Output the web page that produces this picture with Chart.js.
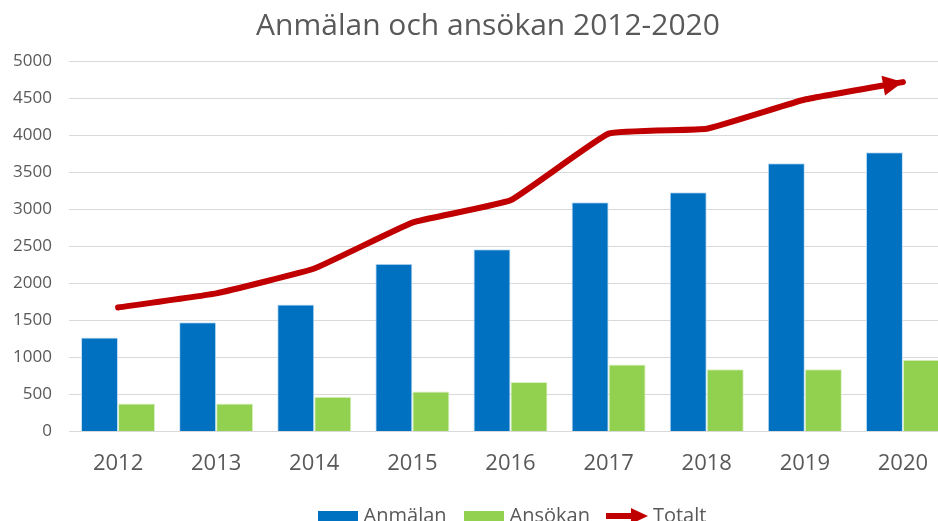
<!DOCTYPE html>
<html>
<head>
<meta charset="utf-8">
<script src="https://cdn.jsdelivr.net/npm/chart.js@4.4.1/dist/chart.umd.min.js"></script>
<style>
  html, body { margin: 0; padding: 0; overflow: hidden; background: #fff; }
  #wrap { position: absolute; left: 0; top: 0; width: 976px; height: 547px; }
</style>
</head>
<body>
<div id="wrap"><canvas id="chart" width="976" height="547"></canvas></div>
<script>
const years = ['2012', '2013', '2014', '2015', '2016', '2017', '2018', '2019', '2020'];
const anmalan = [1270, 1475, 1715, 2265, 2460, 3095, 3230, 3620, 3770];
const ansokan = [380, 380, 470, 540, 670, 905, 840, 840, 970];
const totalt = [1675, 1865, 2200, 2820, 3120, 4020, 4085, 4480, 4715];
const yTicks = [0, 500, 1000, 1500, 2000, 2500, 3000, 3500, 4000, 4500, 5000];

const BLUE = '#0070C0';
const GREEN = '#92D050';
const RED = '#C00000';
const GREY = '#595959';
const FONT = "'Open Sans', 'DejaVu Sans', sans-serif";

function boxIcon(color) {
    const c = document.createElement('canvas');
    c.width = 40; c.height = 11;
    const g = c.getContext('2d');
    g.fillStyle = color;
    g.fillRect(0, 0, 40, 11);
    return c;
}
function arrowIcon() {
    const c = document.createElement('canvas');
    c.width = 42; c.height = 16;
    const g = c.getContext('2d');
    g.strokeStyle = RED; g.fillStyle = RED; g.lineWidth = 6;
    g.beginPath(); g.moveTo(0, 8); g.lineTo(28, 8); g.stroke();
    g.beginPath(); g.moveTo(42, 8); g.lineTo(25, 0); g.lineTo(25, 16); g.closePath(); g.fill();
    return c;
}

// arrow head at the end of the Totalt line
const arrowHead = {
    id: 'arrowHead',
    afterDatasetsDraw(chart) {
        const pts = chart.getDatasetMeta(2).data;
        const last = pts[pts.length - 1];
        const prev = pts[pts.length - 2];
        const ang = Math.atan2(last.y - prev.y, last.x - prev.x);
        const ctx = chart.ctx;
        ctx.save();
        ctx.translate(last.x, last.y);
        ctx.rotate(ang);
        ctx.fillStyle = RED;
        ctx.beginPath();
        ctx.moveTo(0, 0);
        ctx.lineTo(-20, -10);
        ctx.lineTo(-20, 10);
        ctx.closePath();
        ctx.fill();
        ctx.restore();
    }
};

// title and legend sit a little right of the plot centre in the original
const nudge = {
    id: 'nudge',
    afterLayout(chart) {
        chart.titleBlock.left += 12;
        chart.titleBlock.right += 12;
        chart.legend.left += 38;
        chart.legend.right += 38;
        chart.legend.top -= 11;
        chart.legend.bottom -= 11;
    }
};

const icons = [boxIcon(BLUE), boxIcon(GREEN), arrowIcon()];

new Chart(document.getElementById('chart').getContext('2d'), {
    type: 'bar',
    data: {
        labels: years,
        datasets: [{
            label: 'Anmälan',
            data: anmalan,
            backgroundColor: BLUE,
            borderColor: 'rgba(190,220,245,0.9)',
            borderWidth: 1,
            order: 2
        }, {
            label: 'Ansökan',
            data: ansokan,
            backgroundColor: GREEN,
            borderColor: 'rgba(215,240,190,0.9)',
            borderWidth: 1,
            order: 2
        }, {
            type: 'line',
            label: 'Totalt',
            data: totalt,
            borderColor: RED,
            borderWidth: 6,
            pointRadius: 0,
            tension: 0.1,
            borderCapStyle: 'round',
            borderJoinStyle: 'round',
            fill: false,
            order: 1
        }]
    },
    options: {
        responsive: false,
        animation: false,
        layout: { padding: { left: 0, right: 24, top: 0, bottom: 0 } },
        datasets: {
            bar: { categoryPercentage: 0.755, barPercentage: 1.0 }
        },
        plugins: {
            title: {
                display: true,
                text: 'Anmälan och ansökan 2012-2020',
                color: GREY,
                font: { family: FONT, size: 30, weight: 'normal' },
                padding: { top: 8, bottom: 17 }
            },
            legend: {
                position: 'bottom',
                labels: {
                    usePointStyle: true,
                    pointStyleWidth: 32,
                    color: GREY,
                    font: { family: FONT, size: 20 },
                    padding: 21,
                    generateLabels(chart) {
                        return chart.data.datasets.map((ds, i) => ({
                            text: ds.label,
                            pointStyle: icons[i],
                            fillStyle: 'transparent',
                            strokeStyle: 'transparent',
                            lineWidth: 0,
                            fontColor: GREY,
                            datasetIndex: i,
                            hidden: false
                        }));
                    }
                }
            },
            tooltip: { enabled: false }
        },
        scales: {
            x: {
                grid: { display: false, drawTicks: false },
                border: { color: '#D9D9D9' },
                ticks: { color: GREY, font: { family: FONT, size: 22 }, padding: 19 }
            },
            y: {
                min: 0,
                max: 5000,
                afterFit(scale) { scale.width = 69; },
                afterBuildTicks(scale) { scale.ticks = yTicks.map(v => ({ value: v })); },
                grid: { color: '#D9D9D9', lineWidth: 1, drawTicks: false },
                border: { display: false },
                ticks: {
                    color: GREY,
                    font: { family: FONT, size: 17 },
                    padding: 17,
                    callback: v => String(v)
                }
            }
        }
    },
    plugins: [arrowHead, nudge]
});
</script>
</body>
</html>
